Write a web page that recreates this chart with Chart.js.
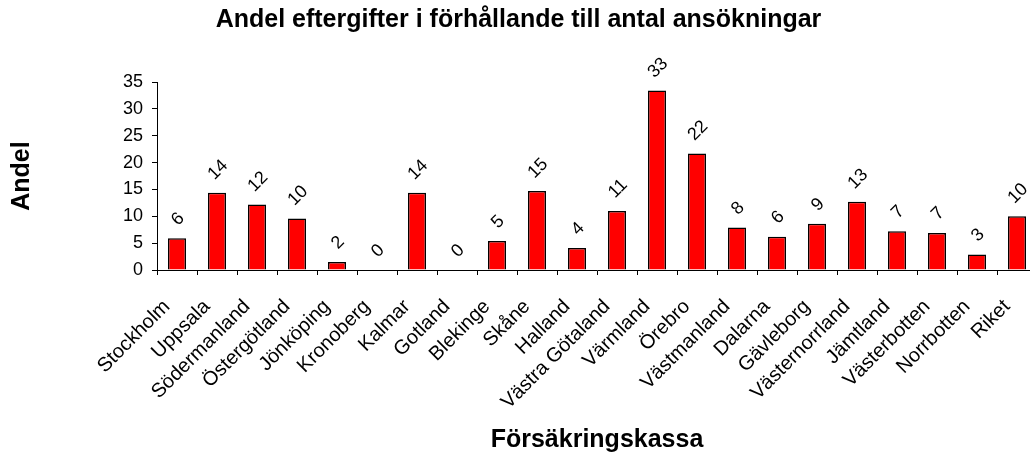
<!DOCTYPE html>
<html>
<head>
<meta charset="utf-8">
<script src="https://cdn.jsdelivr.net/npm/chart.js@4.4.1/dist/chart.umd.min.js"></script>
<style>
  html, body { margin: 0; padding: 0; background: #fff; overflow: hidden; }
  #wrap { width: 1030px; height: 457px; overflow: hidden; position: relative; }
  #box { width: 1040px; height: 457px; }
</style>
</head>
<body>
<div id="wrap"><div id="box"><canvas id="chart"></canvas></div></div>
<script>
const chartTitle = 'Andel eftergifter i förhållande till antal ansökningar';
const xTitle = 'Försäkringskassa';
const yTitle = 'Andel';

const kassor = [
  'Stockholm', 'Uppsala', 'Södermanland', 'Östergötland', 'Jönköping',
  'Kronoberg', 'Kalmar', 'Gotland', 'Blekinge', 'Skåne', 'Halland',
  'Västra Götaland', 'Värmland', 'Örebro', 'Västmanland', 'Dalarna',
  'Gävleborg', 'Västernorrland', 'Jämtland', 'Västerbotten', 'Norrbotten', 'Riket'
];
const andel = [
  5.9, 14.4, 12.2, 9.6, 1.5,
  0, 14.4, 0, 5.4, 14.7, 4.1,
  11.0, 33.4, 21.7, 7.9, 6.2,
  8.6, 12.7, 7.2, 6.9, 2.9, 10.0
];
// labels printed above the bars (rounded in the source)
const etiketter = [
  6, 14, 12, 10, 2,
  0, 14, 0, 5, 15, 4,
  11, 33, 22, 8, 6,
  9, 13, 7, 7, 3, 10
];
const yTicks = [0, 5, 10, 15, 20, 25, 30, 35];

const FONT = 'Arial, "Liberation Sans", sans-serif';

// rotated value labels above each bar
const valueLabels = {
  id: 'valueLabels',
  afterDatasetsDraw(chart) {
    const ctx = chart.ctx;
    const meta = chart.getDatasetMeta(0);
    ctx.save();
    ctx.font = '18px ' + FONT;
    ctx.fillStyle = '#000';
    ctx.textAlign = 'center';
    ctx.textBaseline = 'middle';
    meta.data.forEach((bar, i) => {
      const txt = String(etiketter[i]);
      const w = ctx.measureText(txt).width;
      const half = (w + 13) * 0.7071 / 2;
      ctx.save();
      ctx.translate(bar.x + 1, bar.y - 11 - half);
      ctx.rotate(-Math.PI / 4);
      ctx.fillText(txt, 0, 0);
      ctx.restore();
    });
    ctx.restore();
  }
};

new Chart(document.getElementById('chart'), {
  type: 'bar',
  data: {
    labels: kassor,
    datasets: [{
      data: andel,
      backgroundColor: '#ff0000',
      borderColor: '#000',
      borderWidth: 1.5,
      categoryPercentage: 1,
      barPercentage: 0.45
    }]
  },
  options: {
    responsive: true,
    maintainAspectRatio: false,
    animation: false,
    layout: { padding: { top: 0, right: 3, left: 0, bottom: 0 } },
    plugins: {
      legend: { display: false },
      tooltip: { enabled: false },
      title: {
        display: true,
        text: chartTitle,
        color: '#000',
        font: { family: FONT, size: 25, weight: 'bold' },
        padding: { top: 5, bottom: 47 }
      }
    },
    scales: {
      x: {
        afterFit(scale) {
          scale.height = 187;
          // the plot runs off the right edge in the original, so no room kept for the last label
          scale.paddingLeft = 0;
          scale.paddingRight = 0;
        },
        grid: { display: true, drawOnChartArea: false, drawTicks: true, tickLength: 5, color: '#000', offset: true },
        border: { color: '#000', width: 1 },
        ticks: {
          autoSkip: false, minRotation: 45, maxRotation: 45,
          padding: 20, labelOffset: -10,
          color: '#000', font: { family: FONT, size: 20 }
        },
        title: {
          display: true, text: xTitle, color: '#000',
          font: { family: FONT, size: 25, weight: 'bold' },
          padding: { top: 0, bottom: 2 }
        }
      },
      y: {
        min: 0, max: 35,
        afterFit(scale) { scale.width = 157; },
        afterBuildTicks(scale) { scale.ticks = yTicks.map(v => ({ value: v })); },
        grid: { display: true, drawOnChartArea: false, drawTicks: true, tickLength: 5, color: '#000' },
        border: { color: '#000', width: 1 },
        ticks: { padding: 9, color: '#000', font: { family: FONT, size: 18 } },
        title: {
          display: true, text: yTitle, color: '#000',
          font: { family: FONT, size: 25, weight: 'bold' },
          padding: { top: 7, bottom: 0 }
        }
      }
    }
  },
  plugins: [valueLabels]
});
</script>
</body>
</html>
